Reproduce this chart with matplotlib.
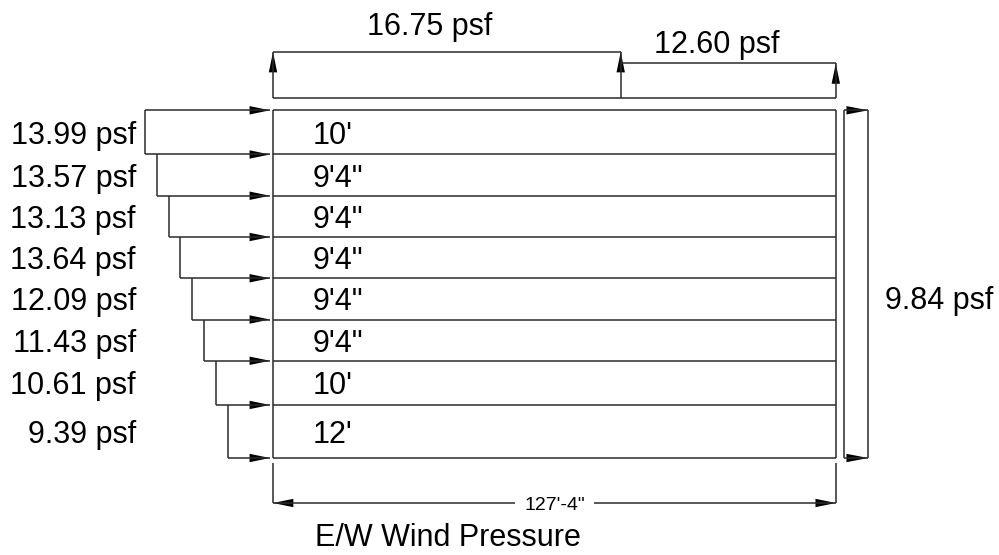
import matplotlib.pyplot as plt
from matplotlib.patches import Polygon
import numpy as np

# storey heights (ft), top floor first, and their labels
floor_heights = [10, 28 / 3, 28 / 3, 28 / 3, 28 / 3, 28 / 3, 10, 12]
floor_labels = ["10'", "9'4\"", "9'4\"", "9'4\"", "9'4\"", "9'4\"", "10'", "12'"]

# windward wall pressures (psf), top floor first
windward_psf = [13.99, 13.57, 13.13, 13.64, 12.09, 11.43, 10.61, 9.39]

# roof pressures (psf): zone 0..h, zone h..L
roof_psf = [16.75, 12.60]
leeward_psf = 9.84

building_width = 127 + 4 / 12
width_label = "127'-4\""
title = "E/W Wind Pressure"

plt.rcParams['font.family'] = ['Liberation Sans', 'DejaVu Sans']

PX = 4.42          # pixels per foot in the drawing
LINE = '#2b2b2b'
LW = 1.1
FS = 22

H = sum(floor_heights)
levels = H - np.concatenate([[0], np.cumsum(floor_heights)])   # top to bottom

fig = plt.figure(figsize=(9.99, 5.55), dpi=100)
ax = fig.add_axes([0, 0, 1, 1])
ax.set_xlim(-273 / PX, (999 - 273) / PX)
ax.set_ylim(-(555 - 458) / PX, 458 / PX)
ax.axis('off')


def line(xs, ys):
    ax.plot(xs, ys, color=LINE, lw=LW, solid_capstyle='butt')


def head(tip, direction, length=4.6, half=0.95):
    # filled triangular arrow head, tip at `tip`, pointing along `direction`
    d = np.array(direction, dtype=float)
    d /= np.linalg.norm(d)
    n = np.array([-d[1], d[0]])
    tip = np.array(tip, dtype=float)
    base = tip - d * length
    ax.add_patch(Polygon([tip, base + n * half, base - n * half],
                         closed=True, color='black', lw=0))


# building outline and floor lines
line([0, 0], [0, H])
line([building_width, building_width], [0, H])
for y in levels:
    line([0, building_width], [y, y])
for i, lab in enumerate(floor_labels):
    ax.text(9.0, (levels[i] + levels[i + 1]) / 2, lab, fontsize=FS,
            ha='left', va='center_baseline')

# windward stepped profile
tip_x = -0.7
xv = [-(29 - 2.69 * i) for i in range(len(windward_psf))]
for i, p in enumerate(windward_psf):
    line([xv[i], xv[i]], [levels[i], levels[i + 1]])
    ax.text(-31.0, (levels[i] + levels[i + 1]) / 2, f"{p:.2f} psf",
            fontsize=FS, ha='right', va='center_baseline')
for k, y in enumerate(levels):
    x_start = xv[max(k - 1, 0)]
    line([x_start, tip_x], [y, y])
    head((tip_x, y), (1, 0))

# roof pressures
k_roof = 0.621     # ft per psf
base_y = H + 2.78
split = H
zones = [(0, split), (split, building_width)]
line([0, building_width], [base_y, base_y])
tops = [base_y + p * k_roof for p in roof_psf]
line([0, 0], [base_y, tops[0]])
head((0, tops[0]), (0, 1))
line([0, split], [tops[0], tops[0]])
line([split, split], [base_y, tops[0]])
head((split, tops[0]), (0, 1))
line([split, building_width], [tops[1], tops[1]])
line([building_width, building_width], [base_y, tops[1]])
head((building_width, tops[1]), (0, 1))
ax.text((zones[0][0] + zones[0][1]) / 2 - 3.9, (458 - 23) / PX,
        f"{roof_psf[0]:.2f} psf", fontsize=FS, ha='center', va='center_baseline')
ax.text((zones[1][0] + zones[1][1]) / 2 - 2.6, (458 - 42) / PX,
        f"{roof_psf[1]:.2f} psf", fontsize=FS, ha='center', va='center_baseline')

# leeward wall
k_lee = 0.55
lx0 = building_width + 1.9
lx1 = lx0 + leeward_psf * k_lee
line([lx0, lx0], [0, H])
line([lx1, lx1], [0, H])
line([lx0, lx1], [H, H])
line([lx0, lx1], [0, 0])
head((lx1, H), (1, 0), length=4.9)
head((lx1, 0), (1, 0), length=4.9)
ax.text(138.5, (458 - 297) / PX, f"{leeward_psf:.2f} psf", fontsize=FS,
        ha='left', va='center_baseline')

# width dimension
dim_y = -(503 - 458) / PX
line([0, 0], [-(463 - 458) / PX, dim_y])
line([building_width, building_width], [-(463 - 458) / PX, dim_y])
mid = building_width / 2
gap = 9.0
line([0, mid - gap], [dim_y, dim_y])
line([mid + gap, building_width], [dim_y, dim_y])
head((0, dim_y), (-1, 0))
head((building_width, dim_y), (1, 0))
ax.text(mid, dim_y, width_label, fontsize=14, ha='center', va='center_baseline')

ax.text(39.6, -(546 - 458) / PX, title, fontsize=FS, ha='center',
        va='baseline')

fig.savefig('out.png', dpi=100)
